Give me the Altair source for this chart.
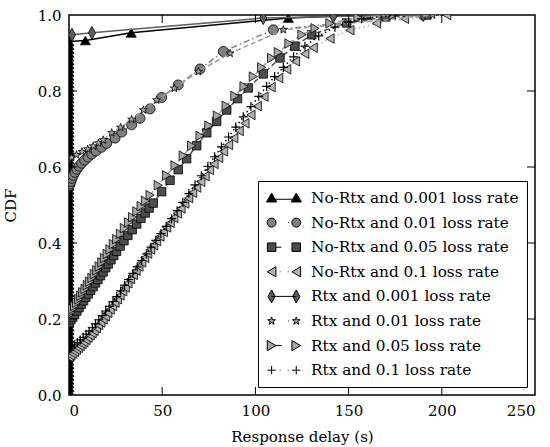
import altair as alt
import pandas as pd

# ---------------- data ----------------
names = [
    "No-Rtx and 0.001 loss rate",
    "No-Rtx and 0.01 loss rate",
    "No-Rtx and 0.05 loss rate",
    "No-Rtx and 0.1 loss rate",
    "Rtx and 0.001 loss rate",
    "Rtx and 0.01 loss rate",
    "Rtx and 0.05 loss rate",
    "Rtx and 0.1 loss rate",
]

# No-Rtx 0.001: almost everything at ~0 s (stacked markers), then a few stragglers
nortx_0001_stack_y = [0.0, 0.01, 0.02, 0.03, 0.04, 0.05, 0.06, 0.07, 0.08, 0.09,
                      0.1, 0.11, 0.12, 0.13, 0.14, 0.15, 0.16, 0.17, 0.18, 0.19,
                      0.2, 0.21, 0.22, 0.23, 0.24, 0.25, 0.26, 0.27, 0.28, 0.29,
                      0.3, 0.31, 0.32, 0.33, 0.34, 0.35, 0.36, 0.37, 0.38, 0.39,
                      0.4, 0.41, 0.42, 0.43, 0.44, 0.45, 0.46, 0.47, 0.48, 0.49,
                      0.5, 0.51, 0.52, 0.53, 0.54, 0.55, 0.56, 0.57, 0.58, 0.59,
                      0.6, 0.61, 0.62, 0.63, 0.64, 0.65, 0.66, 0.67, 0.68, 0.69,
                      0.7, 0.71, 0.72, 0.73, 0.74, 0.75, 0.76, 0.77, 0.78, 0.79,
                      0.8, 0.81, 0.82, 0.83, 0.84, 0.85, 0.86, 0.87, 0.88, 0.89,
                      0.9, 0.91, 0.92, 0.93]
nortx_0001_x = [0.0] * len(nortx_0001_stack_y) + [8.8, 33.4, 117.7, 160.0]
nortx_0001_y = nortx_0001_stack_y + [0.933, 0.953, 0.992, 1.0]

nortx_001_x = [0.0, 0.5, 1.0, 1.6, 2.3, 3.2, 4.2, 5.4, 6.8, 8.4, 10.2, 12.2, 14.5, 17.5,
               20.2, 24.7, 28.3, 33.6, 38.1, 43.5, 49.7, 58.6, 70.3, 82.8, 109.6, 190.0]
nortx_001_y = [0.55, 0.555, 0.562, 0.57, 0.578, 0.586, 0.594, 0.602, 0.61, 0.618, 0.626,
               0.634, 0.642, 0.652, 0.662, 0.676, 0.692, 0.711, 0.728, 0.753, 0.783,
               0.816, 0.858, 0.904, 0.961, 1.0]

nortx_005_x = [0.0, 1.0, 2.0, 3.0, 4.2, 5.4, 6.6, 7.8, 9.0, 10.3, 11.6, 12.9, 14.2, 15.5,
               16.9, 18.3, 19.7, 21.1, 22.5, 24.0, 25.5, 27.4, 29.5, 31.6, 33.9, 36.3,
               38.6, 40.9, 43.0, 45.2, 49.7, 54.2, 58.6, 63.1, 68.5, 73.9, 79.2, 84.6,
               90.4, 96.2, 104.2, 113.2, 121.2, 130.2, 149.0, 170.0, 192.0]
nortx_005_y = [0.19, 0.198, 0.205, 0.212, 0.221, 0.23, 0.239, 0.248, 0.257, 0.266, 0.276,
               0.285, 0.295, 0.304, 0.314, 0.324, 0.335, 0.345, 0.356, 0.367, 0.378,
               0.392, 0.406, 0.42, 0.435, 0.45, 0.465, 0.479, 0.492, 0.505, 0.535,
               0.565, 0.593, 0.622, 0.656, 0.69, 0.72, 0.75, 0.78, 0.808, 0.845, 0.887,
               0.918, 0.948, 0.979, 0.995, 1.0]

nortx_01_x = [0.0, 1.0, 2.0, 3.0, 4.0, 5.0, 6.0, 7.0, 8.0, 9.1, 10.2, 11.3, 12.4, 13.5,
              14.7, 15.9, 17.1, 18.3, 19.5, 20.8, 22.1, 23.4, 24.7, 26.0, 27.4, 28.8,
              30.2, 31.6, 33.0, 34.5, 36.0, 37.5, 39.0, 40.6, 42.2, 43.8, 45.4, 47.0,
              48.8, 50.6, 52.4, 54.3, 56.2, 58.1, 60.1, 62.1, 64.2, 66.3, 68.5, 70.7,
              73.0, 75.4, 77.8, 80.3, 82.9, 85.6, 88.4, 91.3, 94.4, 97.6, 101.0, 104.6,
              108.4, 112.5, 116.8, 121.5, 126.5, 131.0, 140.0, 150.7, 165.0, 180.0, 202.6]
nortx_01_y = [0.1, 0.104, 0.109, 0.114, 0.119, 0.124, 0.129, 0.134, 0.139, 0.145, 0.151,
              0.157, 0.163, 0.169, 0.176, 0.184, 0.191, 0.199, 0.207, 0.216, 0.225,
              0.234, 0.243, 0.252, 0.262, 0.273, 0.283, 0.294, 0.305, 0.316, 0.327,
              0.338, 0.349, 0.361, 0.372, 0.383, 0.394, 0.405, 0.417, 0.429, 0.441,
              0.453, 0.466, 0.478, 0.491, 0.504, 0.518, 0.532, 0.546, 0.561, 0.576,
              0.592, 0.608, 0.624, 0.641, 0.658, 0.676, 0.695, 0.715, 0.737, 0.76,
              0.785, 0.81, 0.834, 0.857, 0.878, 0.898, 0.914, 0.938, 0.96, 0.978, 0.99, 1.0]

rtx_0001_x = [1.6, 12.3, 104.2, 141.8, 190.0]
rtx_0001_y = [0.948, 0.953, 0.992, 0.996, 1.0]

rtx_001_x = [0.0, 1.4, 4.0, 7.0, 10.0, 13.0, 15.8, 18.4, 22.9, 27.7, 33.6, 39.9, 47.0,
             56.5, 69.4, 86.4, 115.0, 195.0]
rtx_001_y = [0.62, 0.625, 0.632, 0.64, 0.647, 0.655, 0.663, 0.671, 0.69, 0.704, 0.725,
             0.75, 0.776, 0.807, 0.851, 0.899, 0.961, 1.0]

rtx_005_x = [0.0, 1.0, 2.0, 3.0, 4.1, 5.2, 6.3, 7.4, 8.6, 9.8, 11.0, 12.3, 13.6, 14.9,
             16.2, 17.6, 19.0, 20.5, 22.0, 23.8, 25.6, 27.6, 29.7, 31.9, 34.1, 36.4,
             38.7, 41.0, 43.5, 47.9, 52.4, 56.9, 61.3, 65.8, 70.3, 75.0, 79.6, 84.3,
             89.0, 93.9, 98.9, 103.4, 108.7, 112.3, 118.0, 125.0, 132.0, 140.0, 155.0, 174.0]
rtx_005_y = [0.21, 0.218, 0.226, 0.234, 0.243, 0.252, 0.261, 0.27, 0.279, 0.289, 0.298,
             0.308, 0.318, 0.328, 0.338, 0.349, 0.36, 0.371, 0.383, 0.397, 0.41, 0.424,
             0.439, 0.454, 0.468, 0.483, 0.497, 0.511, 0.526, 0.552, 0.578, 0.604,
             0.63, 0.656, 0.682, 0.709, 0.735, 0.761, 0.787, 0.812, 0.838, 0.862,
             0.887, 0.902, 0.925, 0.948, 0.965, 0.978, 0.993, 1.0]

rtx_01_x = [0.0, 1.5, 3.0, 4.5, 6.0, 7.6, 9.2, 10.8, 12.5, 14.2, 16.0, 17.8, 19.7, 21.6,
            23.6, 25.6, 27.7, 29.8, 32.0, 34.3, 36.6, 39.0, 41.5, 44.0, 46.6, 49.3,
            52.1, 55.0, 58.0, 61.1, 64.3, 67.6, 71.0, 74.5, 78.1, 81.8, 85.6, 89.5,
            93.5, 97.6, 101.8, 106.0, 110.3, 115.0, 120.5, 126.6, 134.0, 142.7, 150.0,
            157.0, 175.0]
rtx_01_y = [0.12, 0.126, 0.132, 0.138, 0.145, 0.152, 0.16, 0.168, 0.177, 0.187, 0.198,
            0.209, 0.221, 0.233, 0.246, 0.259, 0.274, 0.289, 0.304, 0.32, 0.337, 0.354,
            0.371, 0.389, 0.407, 0.425, 0.444, 0.464, 0.485, 0.507, 0.53, 0.553, 0.577,
            0.602, 0.627, 0.653, 0.679, 0.705, 0.732, 0.759, 0.786, 0.812, 0.838,
            0.862, 0.89, 0.918, 0.945, 0.968, 0.981, 0.99, 1.0]

x_ticks = [0, 50, 100, 150, 200, 250]
y_ticks = [0.0, 0.2, 0.4, 0.6, 0.8, 1.0]
inner_x_ticks = [50, 100, 150, 200]
inner_y_ticks = [0.2, 0.4, 0.6, 0.8]

series_x = [nortx_0001_x, nortx_001_x, nortx_005_x, nortx_01_x,
            rtx_0001_x, rtx_001_x, rtx_005_x, rtx_01_x]
series_y = [nortx_0001_y, nortx_001_y, nortx_005_y, nortx_01_y,
            rtx_0001_y, rtx_001_y, rtx_005_y, rtx_01_y]

# ---------------- styles ----------------
FONT = "DejaVu Serif"
FS = 15
W, H = 466, 380

STAR = ("M0,-1L0.235,-0.324L0.951,-0.309L0.38,0.124L0.588,0.809L0,0.4"
        "L-0.588,0.809L-0.38,0.124L-0.951,-0.309L-0.235,-0.324Z")
DIAM = "M0,-1L0.55,0L0,1L-0.55,0Z"
PLUS = "M-1,0L1,0M0,-1L0,1"

shapes = ["triangle-up", "circle", "square", "triangle-left", DIAM, STAR, "triangle-right", PLUS]
sizes = [100, 100, 72, 90, 169, 70, 90, 81]
fills = ["#000000", "#808080", "#4d4d4d", "#b3b3b3", "#5e5e5e", "#a6a6a6", "#a6a6a6", "#000000"]
line_colors = ["#000000", "#808080", "#4d4d4d", "#b3b3b3", "#5e5e5e", "#9a9a9a", "#9a9a9a", "#000000"]
dashes = [None, [6, 3, 1.5, 3], [5, 3], [1.5, 3], None, [5, 3], [6, 3], [1.5, 3]]
legend_strokes = ["black"] * 8


def fmt(v):
    return f"{v:.3f}"


def p_tri_up(cx, h=0.6):
    return f"M{fmt(cx)},{fmt(-0.95*h)}L{fmt(cx+h)},{fmt(0.78*h)}L{fmt(cx-h)},{fmt(0.78*h)}Z"


def p_tri_left(cx, h=0.6):
    return f"M{fmt(cx-0.85*h)},0L{fmt(cx+0.85*h)},{fmt(-h)}L{fmt(cx+0.85*h)},{fmt(h)}Z"


def p_tri_right(cx, h=0.6):
    return f"M{fmt(cx+0.85*h)},0L{fmt(cx-0.85*h)},{fmt(-h)}L{fmt(cx-0.85*h)},{fmt(h)}Z"


def p_circle(cx, r=0.53):
    return (f"M{fmt(cx-r)},0A{fmt(r)},{fmt(r)} 0 1,0 {fmt(cx+r)},0"
            f"A{fmt(r)},{fmt(r)} 0 1,0 {fmt(cx-r)},0Z")


def p_square(cx, h=0.5):
    return (f"M{fmt(cx-h)},{fmt(-h)}L{fmt(cx+h)},{fmt(-h)}L{fmt(cx+h)},{fmt(h)}"
            f"L{fmt(cx-h)},{fmt(h)}Z")


def p_diam(cx, w=0.42, h=0.76):
    return f"M{fmt(cx)},{fmt(-h)}L{fmt(cx+w)},0L{fmt(cx)},{fmt(h)}L{fmt(cx-w)},0Z"


def p_star(cx, r=0.48):
    pts = [(0, -1), (0.235, -0.324), (0.951, -0.309), (0.38, 0.124), (0.588, 0.809),
           (0, 0.4), (-0.588, 0.809), (-0.38, 0.124), (-0.951, -0.309), (-0.235, -0.324)]
    return "M" + "L".join(f"{fmt(cx + r*a)},{fmt(r*b)}" for a, b in pts) + "Z"


def p_plus(cx, h=0.5):
    return f"M{fmt(cx-h)},0L{fmt(cx+h)},0M{fmt(cx)},{fmt(-h)}L{fmt(cx)},{fmt(h)}"


def p_seg(a, b, y=0.0):
    return f"M{fmt(a)},{fmt(y)}L{fmt(b)},{fmt(y)}"


LX, RX = -0.4, 2.5
leg_paths = [
    p_tri_up(LX) + p_seg(LX, RX, 0.15) + p_tri_up(RX),
    p_circle(LX) + p_seg(1.55, 1.65) + p_circle(RX),
    p_square(LX) + p_seg(LX + 0.5, LX + 1.15) + p_square(RX),
    p_tri_left(LX) + p_seg(0.55, 0.65) + p_seg(1.5, 1.6) + p_tri_left(RX),
    p_diam(LX) + p_seg(LX, RX) + p_diam(RX),
    p_star(LX) + p_seg(1.55, 1.65) + p_star(RX),
    p_tri_right(LX) + p_seg(LX + 0.5, LX + 1.2) + p_tri_right(RX),
    p_plus(LX) + p_seg(0.55, 0.65) + p_seg(1.5, 1.6) + p_plus(RX),
]

xs = alt.Scale(domain=[0, 250], nice=False, zero=False)
ys = alt.Scale(domain=[0, 1], nice=False, zero=False)
xaxis = alt.Axis(values=x_ticks, format="d", ticks=False, grid=False, domain=False,
                 labelPadding=8, titlePadding=11)
yaxis = alt.Axis(values=y_ticks, format=".1f", ticks=False, grid=False, domain=False,
                 labelPadding=8, titlePadding=19)


def X():
    return alt.X("x:Q", scale=xs, axis=xaxis, title="Response delay (s)")


def Y():
    return alt.Y("y:Q", scale=ys, axis=yaxis, title="CDF")


layers = []
for i in range(8):
    df = pd.DataFrame({"x": series_x[i], "y": series_y[i], "i": list(range(len(series_x[i])))})
    base = alt.Chart(df)
    line_kw = dict(color=line_colors[i], strokeWidth=1.5, clip=True)
    if dashes[i] is not None:
        line_kw["strokeDash"] = dashes[i]
    layers.append(base.mark_line(**line_kw).encode(x=X(), y=Y(), order="i:Q"))
    if shapes[i] == PLUS:
        pt = base.mark_point(shape=PLUS, filled=False, stroke="black", strokeWidth=1.2,
                             size=sizes[i], opacity=1, clip=True)
    else:
        pt = base.mark_point(shape=shapes[i], filled=True, fill=fills[i], stroke="black",
                             strokeWidth=0.8, size=sizes[i], opacity=1, clip=True)
    layers.append(pt.encode(x=X(), y=Y()))

# inner tick marks on all four sides
xt_df = pd.DataFrame({"x": inner_x_ticks})
yt_df = pd.DataFrame({"y": inner_y_ticks})
layers.append(alt.Chart(xt_df).mark_rule(color="black", strokeWidth=1).encode(
    x=X(), y=alt.value(H), y2=alt.value(H - 8)))
layers.append(alt.Chart(xt_df).mark_rule(color="black", strokeWidth=1).encode(
    x=X(), y=alt.value(0), y2=alt.value(8)))
layers.append(alt.Chart(yt_df).mark_rule(color="black", strokeWidth=1).encode(
    y=Y(), x=alt.value(0), x2=alt.value(8)))
layers.append(alt.Chart(yt_df).mark_rule(color="black", strokeWidth=1).encode(
    y=Y(), x=alt.value(W), x2=alt.value(W - 8)))

# legend-only layer (no visible marks)
leg_df = pd.DataFrame({"series": names, "x": [0.0] * 8, "y": [0.0] * 8})
legend = alt.Legend(
    title=None, orient="bottom-right", offset=8, padding=8,
    strokeColor="black", fillColor="white", cornerRadius=0,
    symbolSize=289, symbolStrokeWidth=1, labelOffset=27, rowPadding=6.6, labelLimit=400,
    labelFont=FONT, labelFontSize=15.3, labelColor="black", symbolLimit=0,
)
layers.append(
    alt.Chart(leg_df).transform_filter("false").mark_point(
        filled=True, opacity=1, strokeWidth=1).encode(
        x=X(), y=Y(),
        shape=alt.Shape("series:N", scale=alt.Scale(domain=names, range=leg_paths), legend=legend),
        fill=alt.Fill("series:N", scale=alt.Scale(domain=names, range=fills), legend=legend),
        stroke=alt.Stroke("series:N", scale=alt.Scale(domain=names, range=legend_strokes), legend=legend),
    )
)

chart = (
    alt.layer(*layers)
    .properties(width=W, height=H,
                padding={"left": 69, "top": 15, "right": 15, "bottom": 52},
                autosize=alt.AutoSizeParams(type="none"))
    .configure(font=FONT)
    .configure_view(stroke="black", strokeWidth=1.5)
    .configure_axis(labelFont=FONT, titleFont=FONT, labelFontSize=FS, titleFontSize=FS,
                    titleFontWeight="normal", labelColor="black", titleColor="black")
)

chart.save("out.html", embed_options={"renderer": "svg", "actions": False})
